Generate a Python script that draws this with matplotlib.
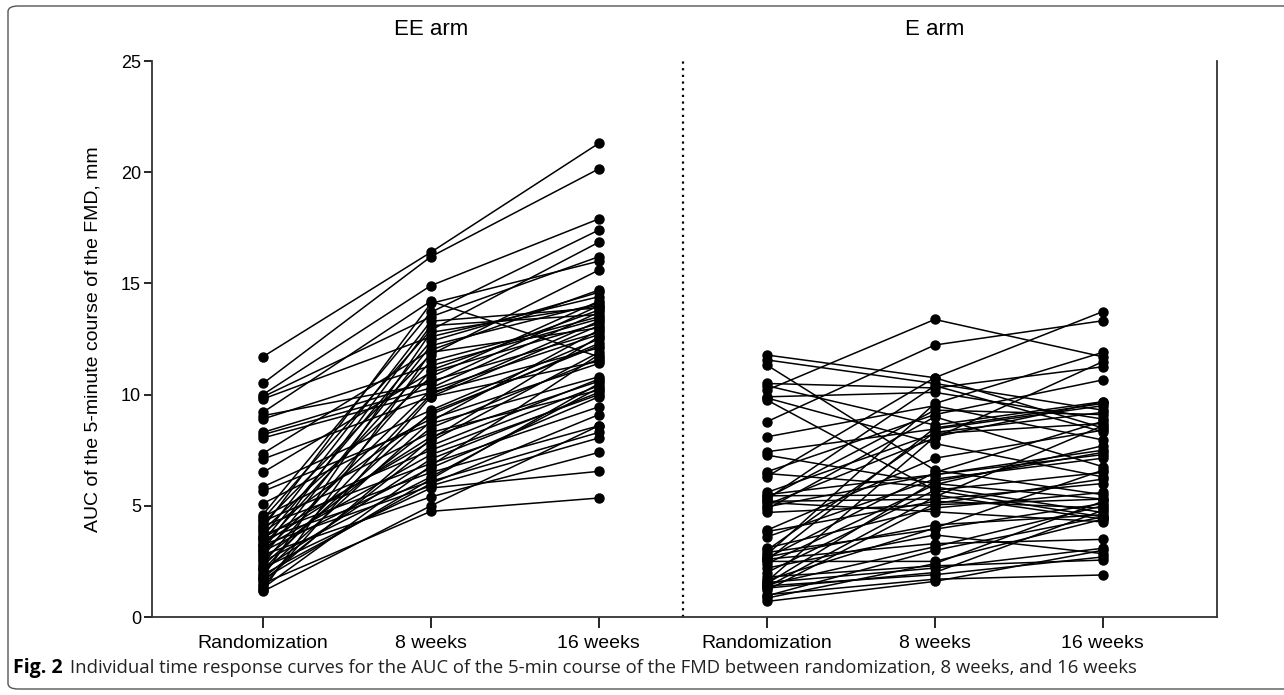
import matplotlib
matplotlib.use("Agg")
import matplotlib.pyplot as plt
from matplotlib.patches import FancyBboxPatch

plt.rcParams['font.family'] = ['Liberation Sans', 'DejaVu Sans']

timepoints = ["Randomization", "8 weeks", "16 weeks"]
arms = ["EE arm", "E arm"]

# EE arm, one entry per subject
ee_rand = [11.7, 10.5, 10.0, 9.9, 9.8, 9.2, 9.05, 8.9, 8.3, 8.2, 8.05, 7.35, 7.1, 6.5,
           5.85, 5.65, 5.1, 4.6, 4.5, 4.4, 4.3, 4.2, 4.1, 4.0, 3.9, 3.8, 3.7, 3.6, 3.55,
           3.5, 3.4, 3.3, 3.25, 3.2, 3.1, 3.0, 2.95, 2.9, 2.8, 2.7, 2.6, 2.5, 2.4, 2.3,
           2.2, 2.15, 2.1, 2.0, 1.9, 1.8, 1.75, 1.7, 1.6, 1.5, 1.4, 1.3, 1.2, 1.15]
ee_w8 = [16.4, 16.2, 14.9, 13.5, 12.6, 14.2, 10.5, 11.3, 10.6, 10.3, 10.1, 12.0, 9.9, 11.0,
         9.3, 8.7, 8.9, 13.7, 8.3, 12.9, 7.5, 11.8, 6.9, 14.1, 10.8, 9.1, 6.5, 13.3, 7.9,
         6.1, 12.4, 8.1, 5.9, 11.5, 7.3, 13.1, 6.7, 10.2, 5.4, 12.2, 8.5, 6.3, 11.1, 9.2,
         5.8, 7.1, 10.0, 8.8, 6.0, 12.8, 7.7, 6.2, 8.0, 4.75, 9.9, 6.8, 11.9, 5.0]
ee_w16 = [21.3, 20.15, 17.9, 16.2, 14.4, 11.7, 14.0, 13.4, 12.8, 13.7, 12.1, 14.7, 11.5, 13.2,
          12.5, 10.8, 11.4, 17.4, 10.2, 16.85, 10.4, 15.6, 9.45, 16.0, 14.2, 12.3, 8.6, 13.9,
          11.9, 8.3, 14.6, 10.6, 8.05, 13.5, 10.0, 13.6, 9.9, 12.7, 7.4, 14.1, 11.6, 10.3,
          13.8, 12.2, 6.55, 10.1, 13.3, 12.9, 9.1, 14.0, 10.7, 10.5, 12.6, 5.35, 13.1, 11.8,
          13.0, 8.6]

# E arm, one entry per subject
e_rand = [11.78, 11.56, 11.33, 10.5, 10.4, 10.2, 9.9, 9.85, 9.76, 8.78, 8.1, 7.43, 7.28, 6.53,
          6.45, 6.31, 5.6, 5.5, 5.45, 5.35, 5.3, 5.2, 5.15, 5.05, 4.95, 4.85, 4.7, 3.9, 3.84,
          3.6, 3.1, 3.0, 2.9, 2.8, 2.7, 2.65, 2.6, 2.55, 2.5, 2.4, 2.2, 2.0, 1.8, 1.65, 1.6,
          1.55, 1.5, 1.45, 1.4, 1.35, 1.3, 1.2, 1.0, 0.95, 0.85, 0.7]
e_w8 = [10.76, 10.5, 6.6, 10.3, 8.63, 13.38, 10.1, 7.8, 5.7, 12.23, 9.5, 8.45, 6.0, 9.1,
        5.85, 10.76, 8.25, 6.4, 5.49, 9.3, 10.4, 5.3, 4.73, 8.05, 6.4, 9.0, 5.05, 7.14, 5.2,
        6.2, 4.9, 8.3, 3.95, 9.6, 4.14, 6.5, 3.3, 8.5, 2.5, 5.95, 3.69, 5.7, 2.3, 4.0, 8.1,
        2.2, 6.1, 3.16, 1.9, 5.4, 2.0, 5.1, 1.7, 3.0, 2.4, 1.6]
e_w16 = [8.5, 9.3, 5.5, 11.25, 9.68, 11.7, 8.9, 6.3, 4.5, 13.32, 7.96, 9.5, 5.3, 10.66,
         4.7, 13.73, 8.7, 7.3, 4.4, 9.1, 8.33, 6.0, 4.28, 11.48, 7.5, 6.76, 5.3, 8.4, 4.9,
         7.14, 5.6, 9.2, 5.1, 11.9, 4.6, 8.8, 3.49, 9.6, 4.4, 7.7, 2.85, 6.5, 2.56, 6.6, 9.68,
         3.09, 7.4, 5.0, 2.7, 8.6, 4.8, 6.2, 1.89, 4.5, 5.2, 3.0]

W, H = 1284, 695
fig = plt.figure(figsize=(W / 100, H / 100), dpi=100)

# rounded frame round the whole figure
frame = FancyBboxPatch((8 / W, 6 / H), 1.2, 1 - 12 / H, boxstyle="round,pad=0,rounding_size=0.008",
                       transform=fig.transFigure, fill=False, edgecolor='#555555', lw=1.0)
fig.patches.append(frame)

ax = fig.add_axes([152 / W, 1 - 617 / H, (1217 - 152) / W, (617 - 61) / H])

for arm_i, (r, a, b) in enumerate([(ee_rand, ee_w8, ee_w16), (e_rand, e_w8, e_w16)]):
    xs = [arm_i * 3 + k for k in range(3)]
    for s in range(len(r)):
        ax.plot(xs, [r[s], a[s], b[s]], color='black', lw=1.1, marker='o', ms=6.5,
                mec='black', mfc='black', zorder=3)

ax.axvline(2.5, color='black', ls=(0, (1, 2)), lw=1.6)

ax.set_xlim(-0.66, 5.68)
ax.set_ylim(0, 25)
ax.set_yticks([0, 5, 10, 15, 20, 25])
ax.set_xticks(range(6))
ax.set_xticklabels(timepoints * 2, fontsize=14)
ax.tick_params(axis='y', labelsize=13, length=6, width=1.2, direction='out', pad=2)
ax.tick_params(axis='x', length=8, width=1.2, direction='out', pad=5)
ax.spines['top'].set_visible(False)
for sp in ['left', 'bottom', 'right']:
    ax.spines[sp].set_linewidth(1.3)
    ax.spines[sp].set_color('#333333')

ax.set_ylabel("AUC of the 5-minute course of the FMD, mm", fontsize=14, labelpad=14)

for i, name in enumerate(arms):
    ax.text(1 + 3 * i, 26.4, name, ha='center', va='center', fontsize=16)

cap_font = ['Open Sans', 'DejaVu Sans']
fig.text(13 / W, 1 - 668 / H, "Fig. 2", fontsize=14, fontweight='bold', va='center',
         family=cap_font)
fig.text(70 / W, 1 - 668 / H,
         "Individual time response curves for the AUC of the 5-min course of the FMD between randomization, 8 weeks, and 16 weeks",
         fontsize=13.3, va='center', family=cap_font, color='#222222')

fig.savefig("out.png", dpi=100)
